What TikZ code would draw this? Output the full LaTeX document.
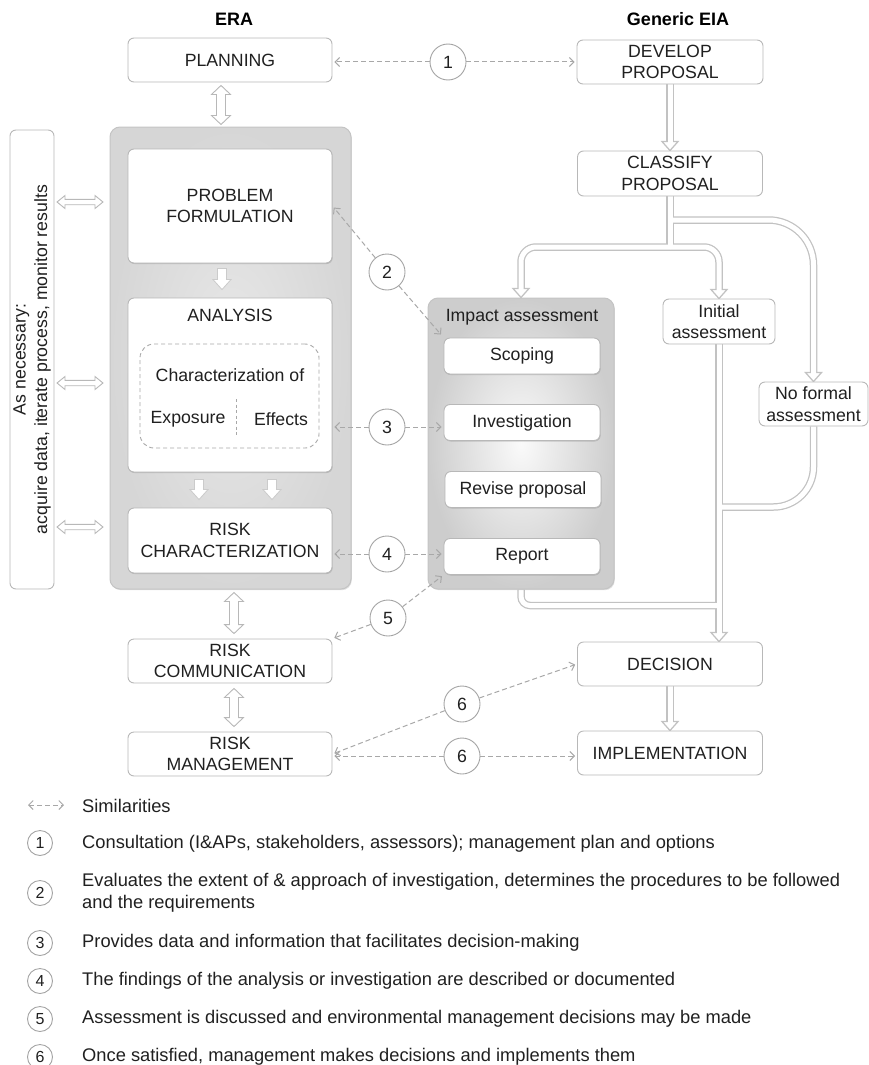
\documentclass[tikz,border=0pt]{standalone}
\usepackage{fontspec}
\setmainfont{Liberation Sans}
\usetikzlibrary{arrows.meta,calc,shadows,backgrounds}

\definecolor{ink}{HTML}{202020}
\definecolor{boxline}{HTML}{B8B8B8}
\definecolor{flowline}{HTML}{C2C2C2}
\definecolor{simline}{HTML}{A8A8A8}
\definecolor{ringline}{HTML}{A4A4A4}
\definecolor{panelrim}{HTML}{C4C4C4}
\definecolor{eraIn}{HTML}{E8E8E8}
\definecolor{eraOut}{HTML}{D6D6D6}
\definecolor{impIn}{HTML}{FAFAFA}
\definecolor{impOut}{HTML}{CDCDCD}
\definecolor{softline}{HTML}{CBCBCB}

\tikzset{
  box/.style={draw=boxline, line width=0.9pt, fill=white, rounded corners=6pt,
    inner sep=0pt, align=center},
  inbox/.style={box, drop shadow={opacity=0.35, shadow xshift=0.6pt,
    shadow yshift=-1pt, fill=gray}},
  panel/.style 2 args={draw=panelrim, line width=1pt, rounded corners=10pt,
    inner color=#1, outer color=#2, inner sep=0pt,
    drop shadow={opacity=0.25, shadow xshift=0.8pt, shadow yshift=-1.2pt, fill=gray}},
  chbox/.style={draw=simline, line width=0.9pt, dash pattern=on 4pt off 3pt,
    rounded corners=14pt, inner sep=0pt},
  title/.style={font=\bfseries\fontsize{18}{21}\selectfont, text=black},
  num/.style={circle, draw=ringline, line width=0.9pt, fill=white,
    minimum size=36pt, inner sep=0pt},
  lnum/.style={circle, draw=ringline, line width=0.9pt, fill=white,
    minimum size=25pt, inner sep=0pt, font=\fontsize{16}{18}\selectfont},
  ltext/.style={anchor=west, align=left, inner sep=0pt,
    font=\fontsize{18.3}{21.5}\selectfont},
  sim/.style={draw=simline, line width=1pt, dash pattern=on 5pt off 3pt,
    shorten >=2pt},
  flowout/.style={draw=flowline, line width=7.5pt},
  flowin/.style={draw=white, line width=5pt, shorten >=-1.5pt},
  flowtip/.style={fill=white, draw=flowline, line width=1.25pt, line join=miter},
  hollowarrow/.style={draw=boxline, fill=white, line width=0.9pt, line join=miter},
  softarrow/.style={draw=softline, fill=white, line width=0.8pt, line join=miter},
  % outlined arrow with a head at both ends: head half-width, shaft half-width, head length
  dblarrow/.style n args={3}{to path={
      ($(\tikztostart)!#3!(\tikztotarget)$) coordinate (ha)
      ($(\tikztotarget)!#3!(\tikztostart)$) coordinate (hb)
      (\tikztostart) -- ($(ha)!#1!90:(hb)$) -- ($(ha)!#2!90:(hb)$)
      -- ($(hb)!#2!-90:(ha)$) -- ($(hb)!#1!-90:(ha)$) -- (\tikztotarget)
      -- ($(hb)!#1!90:(ha)$) -- ($(hb)!#2!90:(ha)$)
      -- ($(ha)!#2!-90:(hb)$) -- ($(ha)!#1!-90:(hb)$) -- cycle}},
  % outlined arrow with a single head at the target
  onearrow/.style n args={3}{to path={
      ($(\tikztotarget)!#3!(\tikztostart)$) coordinate (hb)
      ($(\tikztostart)!#2!90:(\tikztotarget)$) -- ($(hb)!#2!-90:(\tikztostart)$)
      -- ($(hb)!#1!-90:(\tikztostart)$) -- (\tikztotarget)
      -- ($(hb)!#1!90:(\tikztostart)$) -- ($(hb)!#2!90:(\tikztostart)$)
      -- ($(\tikztostart)!#2!-90:(\tikztotarget)$) -- cycle}},
}

% the double-line flow network of the EIA side
\newcommand\flownet[1]{%
  \draw[#1] (dev.south) -- (tcls);
  \draw[#1] (cls.south) -- (jB);
  \draw[#1, rounded corners=15pt] (jB) -| (timp);
  \draw[#1, rounded corners=15pt] (jB) -| (tini);
  \draw[#1, rounded corners=45pt] (jA) -| (tnof);
  \draw[#1] (ini.south) -- (tdec);
  \draw[#1, rounded corners=40pt] (nof.south) |- (jC);
  \draw[#1, rounded corners=9pt] (imp.south) |- (jD);
  \draw[#1] (dec.south) -- (timpl);
}
% downward arrow head of the flow network, apex at #1
\newcommand\flowhead[1]{\draw[flowtip] (#1) -- ++(-8,-9) -- ++(16,0) -- cycle;}

\begin{document}
\begin{tikzpicture}[x=1pt, y=-1pt,
  every node/.style={font=\fontsize{17.7}{21.5}\selectfont, text=ink},
  >={Straight Barb[length=4.5pt,width=9pt]}]
\useasboundingbox (0,0) rectangle (869,1065);

% ---------- titles ----------
\node[title] (tera) at (234,19) {ERA};
\node[title] (teia) at (678,19) {Generic EIA};

% ---------- ERA column ----------
\node[box, minimum width=204, minimum height=44] (plan) at (230,60) {PLANNING};
\node[panel={eraIn}{eraOut}, minimum width=241, minimum height=462] (era) at (230.5,358) {};
\node[inbox, minimum width=204, minimum height=114] (prob) at (230,206) {PROBLEM\\FORMULATION};
\node[inbox, minimum width=204, minimum height=174] (ana) at (230,385) {};
\node (anat) at (230,315) {ANALYSIS};
\node[chbox, minimum width=179, minimum height=104] (chb) at (229.5,396) {};
\node (chof) at (230,375) {Characterization of};
\node (expo) at (188,419) {Exposure};
\node (effe) at (281,419) {Effects};
\draw[draw=simline, line width=0.9pt, dash pattern=on 3pt off 2.5pt] (236,399) -- (236,437);
\node[inbox, minimum width=204, minimum height=65] (rc) at (230,540.5) {RISK\\CHARACTERIZATION};
\node[box, minimum width=204, minimum height=44] (rcom) at (230,661) {RISK\\COMMUNICATION};
\node[box, minimum width=204, minimum height=44] (rm) at (230,754) {RISK\\MANAGEMENT};

\node[box, rotate=90, minimum width=459, minimum height=44] (nec) at (32,359.5)
  {As necessary:\\acquire data, iterate process, monitor results};

% ---------- EIA column ----------
\node[box, minimum width=186, minimum height=44] (dev) at (670,62) {DEVELOP\\PROPOSAL};
\node[box, minimum width=185, minimum height=45] (cls) at (670,173.5) {CLASSIFY\\PROPOSAL};
\node[panel={impIn}{impOut}, minimum width=186, minimum height=291] (imp) at (521,443.5) {};
\node (impt) at (522,317) {Impact assessment};
\node[inbox, minimum width=156, minimum height=36] (scop) at (522,356) {Scoping};
\node[inbox, minimum width=156, minimum height=36] (inv) at (522,422.5) {Investigation};
\node[inbox, minimum width=156, minimum height=36] (rev) at (523,489.5) {Revise proposal};
\node[inbox, minimum width=156, minimum height=36] (rep) at (522,556.5) {Report};
\node[box, minimum width=112, minimum height=45] (ini) at (719,321.5) {Initial\\assessment};
\node[box, minimum width=109, minimum height=44] (nof) at (813.5,404) {No formal\\assessment};
\node[box, minimum width=185, minimum height=44] (dec) at (670,664) {DECISION};
\node[box, minimum width=185, minimum height=44] (impl) at (670,753) {IMPLEMENTATION};

% ---------- flow network ----------
\coordinate (jA) at (670,220);
\coordinate (jB) at (670,247);
\coordinate (jC) at (719,507);
\coordinate (jD) at (719,605.5);
\coordinate (ddec) at (ini.south |- dec.north);
\coordinate (tcls) at ($(cls.north)+(0,-9)$);
\coordinate (timp) at ($(imp.north)+(0,-9)$);
\coordinate (tini) at ($(ini.north)+(0,-9)$);
\coordinate (tnof) at ($(nof.north)+(0,-9)$);
\coordinate (tdec) at ($(ddec)+(0,-9)$);
\coordinate (timpl) at ($(impl.north)+(0,-9)$);
\begin{scope}[on background layer]
  \flownet{flowout}
  \flowhead{cls.north}
  \flowhead{imp.north}
  \flowhead{ini.north}
  \flowhead{nof.north}
  \flowhead{ddec}
  \flowhead{impl.north}
  \flownet{flowin}
\end{scope}

% ---------- outlined block arrows ----------
\coordinate (pv1) at ($(plan.south)+(-9,3)$);
\coordinate (pv2) at ($(era.north)+(-9.5,-2)$);
\coordinate (cv1) at ($(era.south)+(3.5,3)$);
\coordinate (cv2) at ($(rcom.north)+(4,-5)$);
\coordinate (mv1) at ($(rcom.south)+(4,5)$);
\coordinate (mv2) at ($(rm.north)+(4,-5)$);
\draw[hollowarrow, dblarrow={9.5pt}{4.5pt}{9pt}] (pv1) to (pv2);
\draw[hollowarrow, dblarrow={9.5pt}{4.5pt}{9pt}] (cv1) to (cv2);
\draw[hollowarrow, dblarrow={9.5pt}{4.5pt}{9pt}] (mv1) to (mv2);

\coordinate (h1a) at (57,202);  \coordinate (h1b) at (103,202);
\coordinate (h2a) at (57,383);  \coordinate (h2b) at (103,383);
\coordinate (h3a) at (57,527);  \coordinate (h3b) at (103,527);
\draw[hollowarrow, dblarrow={6.5pt}{2.7pt}{8pt}] (h1a) to (h1b);
\draw[hollowarrow, dblarrow={6.5pt}{2.7pt}{8pt}] (h2a) to (h2b);
\draw[hollowarrow, dblarrow={6.5pt}{2.7pt}{8pt}] (h3a) to (h3b);

\coordinate (d1a) at ($(prob.south)+(-8,5)$);
\coordinate (d1b) at ($(ana.north)+(-8,-8)$);
\coordinate (d2a) at ($(ana.south)+(-31,7)$);
\coordinate (d2b) at ($(rc.north)+(-31,-8)$);
\coordinate (d3a) at ($(ana.south)+(42,7)$);
\coordinate (d3b) at ($(rc.north)+(42,-8)$);
\draw[softarrow, onearrow={9pt}{4.5pt}{10pt}] (d1a) to (d1b);
\draw[softarrow, onearrow={9pt}{4.5pt}{10pt}] (d2a) to (d2b);
\draw[softarrow, onearrow={9pt}{4.5pt}{10pt}] (d3a) to (d3b);

% ---------- similarity links ----------
\node[num] (c1) at (448,62) {1};
\node[num] (c2) at (387,272) {2};
\node[num] (c3) at (387,427) {3};
\node[num] (c4) at (387,554) {4};
\node[num] (c5) at (388,618) {5};
\node[num] (c6a) at (462,704) {6};
\node[num] (c6b) at (462,756) {6};

\draw[sim,->] (c1) -- (c1 -| plan.east);
\draw[sim,->] (c1) -- (c1 -| dev.west);
\draw[sim,->] (c2) -- (prob.east);
\draw[sim,->, shorten >=4pt] (c2) -- (scop.north west);
\draw[sim,->] (c3) -- (c3 -| ana.east);
\draw[sim,->] (c3) -- (c3 -| inv.west);
\draw[sim,->] (c4) -- (c4 -| rc.east);
\draw[sim,->] (c4) -- (c4 -| rep.west);
\draw[sim,->] (c5) -- (rcom.north east);
\draw[sim,->] (c5) -- (rep.south west);
\draw[sim,->] (c6a) -- (rm.east);
\draw[sim,->] (c6a) -- (dec.west);
\draw[sim,->] (c6b) -- (c6b -| rm.east);
\draw[sim,->] (c6b) -- (c6b -| impl.west);

% ---------- legend ----------
\coordinate (lg1) at (28,805);
\coordinate (lg2) at (64,805);
\draw[sim, shorten >=0pt, <->] (lg1) -- (lg2);
\node[ltext] (lsim) at (82,806) {Similarities};

\node[lnum] (l1) at (40,843) {1};
\node[ltext] (t1) at (82,844) {Consultation (I\&APs, stakeholders, assessors); management plan and options};
\node[lnum] (l2) at (40,893) {2};
\node[ltext] (t2) at (82,893) {Evaluates the extent of \& approach of investigation, determines the procedures to be followed\\and the requirements};
\node[lnum] (l3) at (40,943) {3};
\node[ltext] (t3) at (82,943) {Provides data and information that facilitates decision-making};
\node[lnum] (l4) at (40,981) {4};
\node[ltext] (t4) at (82,981) {The findings of the analysis or investigation are described or documented};
\node[lnum] (l5) at (40,1019) {5};
\node[ltext] (t5) at (82,1019) {Assessment is discussed and environmental management decisions may be made};
\node[lnum] (l6) at (40,1057) {6};
\node[ltext] (t6) at (82,1057) {Once satisfied, management makes decisions and implements them};
\end{tikzpicture}
\end{document}
